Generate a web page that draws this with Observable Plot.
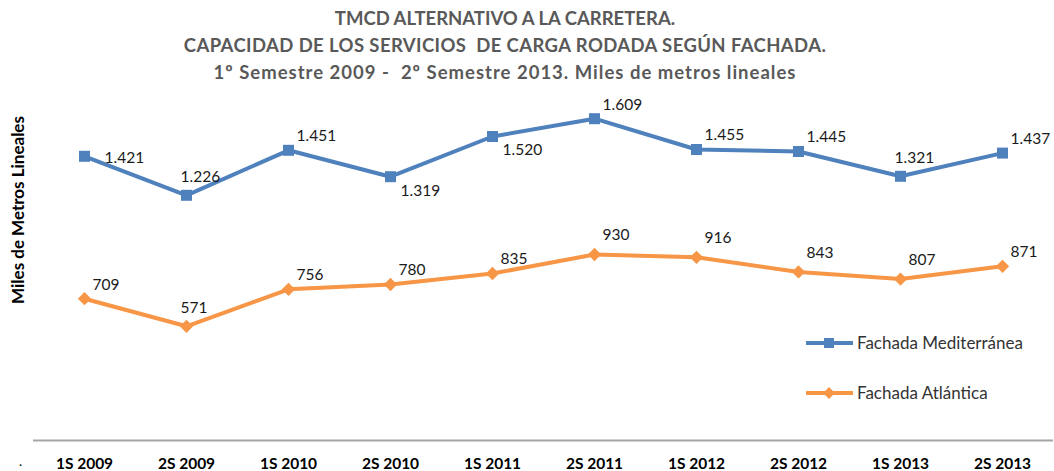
<!DOCTYPE html>
<html><head><meta charset="utf-8">
<script src="https://cdn.jsdelivr.net/npm/d3@7"></script>
<script src="https://cdn.jsdelivr.net/npm/@observablehq/plot@0.6"></script>
<style>
body{margin:0;background:#fff;font-family:Lato, "Open Sans", sans-serif;}
#title{width:1010px;text-align:center;color:#595959;font-weight:bold;font-size:18.5px;line-height:27px;padding-top:5px;height:83px;box-sizing:content-box;}
#title .l2{letter-spacing:0.4px;}
#title .l3{letter-spacing:1px;}
#chart svg{display:block;}
</style></head><body>
<div id="title"><span class="l1">TMCD ALTERNATIVO A LA CARRETERA.</span><br><span class="l2">CAPACIDAD DE LOS SERVICIOS&nbsp; DE CARGA RODADA SEGÚN FACHADA.</span><br><span class="l3">1º Semestre 2009 -&nbsp; 2º Semestre 2013. Miles de metros lineales</span></div>
<div id="chart"></div>
<script>
const periods = ["1S 2009","2S 2009","1S 2010","2S 2010","1S 2011","2S 2011","1S 2012","2S 2012","1S 2013","2S 2013"];
const mediterranea = [1421,1226,1451,1319,1520,1609,1455,1445,1321,1437];
const atlantica = [709,571,756,780,835,930,916,843,807,871];
const seriesNames = ["Fachada Mediterránea","Fachada Atlántica"];
const medLabelPlacement = ["r","a","ar","br","br","ar","ar","ar","a","ar"];
const atlLabelPlacement = ["ar","a","ar","ar","ar","ar2","ar2","ar2","ar2","ar"];

const colors = {"Fachada Mediterránea":"#4F81BD","Fachada Atlántica":"#F79646"};
const offsets = {r:[20,2], a:[-6,-18], ar:[8,-14], ar2:[8,-19], br:[10,14]};
const fmt = d3.formatLocale({decimal:",", thousands:".", grouping:[3], currency:["","€"]}).format(",d");
const FONT = "Lato, 'Open Sans', sans-serif";

const data = [];
periods.forEach((p,i)=>{
  data.push({period:p, series:seriesNames[0], value:mediterranea[i], pos:medLabelPlacement[i]});
  data.push({period:p, series:seriesNames[1], value:atlantica[i], pos:atlLabelPlacement[i]});
});

const W = 1054, H = 383;
const labelMarks = Object.entries(offsets).map(([k,[dx,dy]]) =>
  Plot.text(data.filter(d=>d.pos===k), {x:"period", y:"value", text:d=>fmt(d.value), dx, dy, textAnchor:"start", fill:"#1a1a1a", fontSize:15.5})
);

const chart = Plot.plot({
  width: W, height: H,
  marginLeft: 33, marginRight: 1, marginTop: 12, marginBottom: 31,
  style: {fontFamily: FONT, background: "#fff"},
  x: {type:"point", domain: periods, padding: 0.5, label: null},
  y: {domain: [0, 1700], axis: null},
  marks: [
    Plot.ruleY([0], {stroke:"#a6a6a6", strokeWidth:2}),
    Plot.axisX({tickSize:0, tickPadding:17, fontSize:15.5, fontWeight:"bold", fill:"#000", label:null}),
    Plot.line(data, {x:"period", y:"value", z:"series", stroke:d=>colors[d.series], strokeWidth:4}),
    Plot.dot(data.filter(d=>d.series===seriesNames[0]), {x:"period", y:"value", symbol:"square", r:6.2, fill:colors[seriesNames[0]], stroke:"none"}),
    Plot.dot(data.filter(d=>d.series===seriesNames[1]), {x:"period", y:"value", symbol:"diamond2", r:6, fill:colors[seriesNames[1]], stroke:"none"}),
    ...labelMarks
  ]
});
document.getElementById("chart").appendChild(chart);

const svg = d3.select(chart);
// y-axis title
svg.append("text").attr("transform","translate(24,122) rotate(-90)").attr("text-anchor","middle")
  .style("font-size","17px").attr("font-weight","bold").attr("fill","#000").attr("font-family",FONT)
  .text("Miles de Metros Lineales");
// stray dot at bottom-left
svg.append("text").attr("x",19).attr("y",378).attr("text-anchor","start").style("font-size","13px").attr("fill","#000").text(".");
// legend
const lg = svg.append("g").attr("font-family",FONT).attr("fill","#333");
seriesNames.forEach((name,i)=>{
  const y = 255 + i*50;
  const g = lg.append("g");
  g.append("line").attr("x1",806).attr("x2",853).attr("y1",y).attr("y2",y).attr("stroke",colors[name]).attr("stroke-width",4);
  if(i===0) g.append("rect").attr("x",824).attr("y",y-5).attr("width",10).attr("height",10).attr("fill",colors[name]);
  else g.append("path").attr("d",`M829,${y-6}L835,${y}L829,${y+6}L823,${y}Z`).attr("fill",colors[name]);
  g.append("text").attr("x",857).attr("y",y).attr("dy","0.35em").attr("text-anchor","start").style("font-size","17px").text(name);
});
</script>
</body></html>
